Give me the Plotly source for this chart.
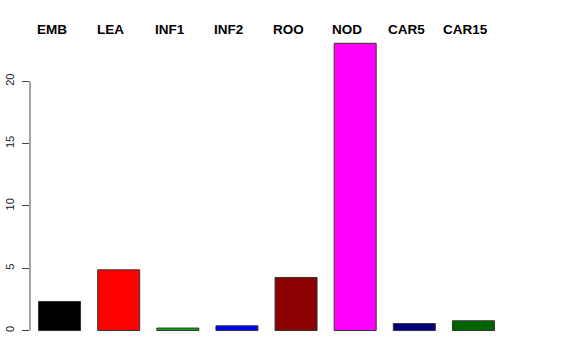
import plotly.graph_objects as go

categories = ["EMB", "LEA", "INF1", "INF2", "ROO", "NOD", "CAR5", "CAR15"]
values = [2.33, 4.87, 0.2, 0.38, 4.26, 23.05, 0.56, 0.78]
colors = ["#000000", "#FF0000", "#00B000", "#0000FF", "#8B0000", "#FF00FF", "#000080", "#006400"]
tick_vals = [0, 5, 10, 15, 20]

fig = go.Figure()
fig.add_trace(go.Bar(
    x=categories, y=values,
    marker=dict(color=colors, line=dict(color="#333333", width=1)),
    showlegend=False,
))

for c in categories:
    fig.add_annotation(x=c, y=1.0, xref="x", yref="paper", yanchor="middle",
                       text="<b>%s</b>" % c, showarrow=False, xshift=-8, yshift=-10,
                       font=dict(family="Liberation Sans, Arial", size=13.5, color="black"))

# R-style axis line spanning the tick range only
fig.add_shape(type="line", xref="paper", x0=0, x1=0, yref="y",
              y0=tick_vals[0], y1=tick_vals[-1], line=dict(color="#444444", width=1))

fig.update_layout(
    width=576, height=360,
    margin=dict(l=30, r=73, t=19, b=17, autoexpand=False),
    paper_bgcolor="white", plot_bgcolor="white",
    bargap=0.29,
    xaxis=dict(range=[-0.5, 7.5], showticklabels=False, ticks="", showline=False,
               showgrid=False, zeroline=False, automargin=False),
    yaxis=dict(range=[-1, 25], tickvals=tick_vals, ticktext=[str(v) for v in tick_vals],
               ticks="outside", ticklen=7, tickcolor="#444444", tickangle=-90,
               ticklabelstandoff=4,
               showgrid=False, zeroline=False, showline=False, automargin=False,
               tickfont=dict(family="Liberation Sans, Arial", size=11, color="#222222")),
)

fig.write_html("out.html", post_script="document.body.style.margin='0';",
               config={"displayModeBar": False})
